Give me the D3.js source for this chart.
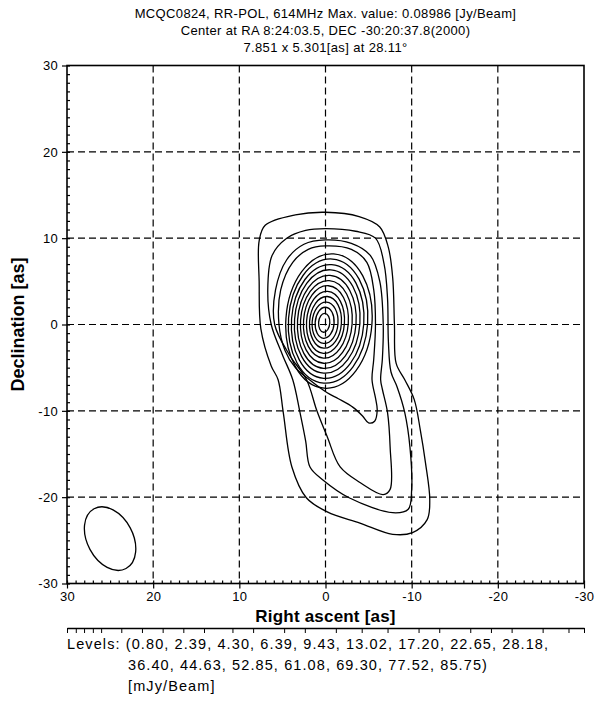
<html>
<head>
    <script src="https://cdnjs.cloudflare.com/ajax/libs/d3/7.8.5/d3.min.js"></script>
    <style>
        body { margin: 0; background: #fff; }
        text { font-family: "Liberation Sans", Arial, sans-serif; fill: #000; }
    </style>
</head>
<body>
    <script>
        var titleLines = ["MCQC0824, RR-POL, 614MHz Max. value: 0.08986 [Jy/Beam]",
            "Center at RA 8:24:03.5, DEC -30:20:37.8(2000)",
            "7.851 x 5.301[as] at 28.11\u00b0"];

        var xTicks = [30, 20, 10, 0, -10, -20, -30];
        var yTicks = [30, 20, 10, 0, -10, -20, -30];
        var gridValues = [20, 10, 0, -10, -20];

        var levels = [0.80, 2.39, 4.30, 6.39, 9.43, 13.02, 17.20, 22.65, 28.18,
            36.40, 44.63, 52.85, 61.08, 69.30, 77.52, 85.75];
        var levelTextLines = ["Levels: (0.80, 2.39, 4.30, 6.39, 9.43, 13.02, 17.20, 22.65, 28.18,",
            "36.40, 44.63, 52.85, 61.08, 69.30, 77.52, 85.75)",
            "[mJy/Beam]"];

        // ticks of the little scale under the axis title (0..1 of width)
        var levelBarTicks = [0, 0.017, 0.033, 0.05, 0.066, 0.105, 0.145, 0.185, 0.225, 0.265,
            0.32, 0.36, 0.42, 0.46, 0.52, 0.57, 0.62, 0.68, 0.72, 0.78, 0.82, 0.86, 0.92, 0.97, 1];

        // beam: centre (RA, Dec), major, minor [as], position angle [deg]
        var beamCenter = [25.0, -24.8];
        var beamAxes = [7.851, 5.301];
        var beamPA = 28.11;

        // outer contours as [RA offset, Dec offset] in arcsec
        var contourL1 = [[0, 13.0], [-3.9, 12.5], [-6.3, 11.3], [-7.3, 8.9], [-7.8, 5.4], [-8.0, 0], [-8.2, -4.5],
            [-9.2, -6.4], [-10.3, -8.7], [-11.0, -12.2], [-11.6, -16.0], [-12.1, -20.3], [-11.8, -22.6],
            [-10.1, -24.1], [-7.8, -24.3], [-4.0, -23.0], [-0.2, -21.7], [2.2, -20.1], [3.9, -16.5],
            [4.9, -10.2], [5.5, -6.4], [6.3, -4.8], [7.5, -0.5], [7.7, 5.0], [7.7, 9.7], [7.0, 11.5], [3.5, 12.7]];
        var contourL2 = [[0, 11.1], [-3.5, 10.8], [-5.8, 10.0], [-6.8, 7.0], [-7.2, 3.0], [-7.3, -2.0], [-7.6, -5.5],
            [-8.3, -7.2], [-9.2, -10.2], [-9.8, -14.2], [-10.0, -19.1], [-9.6, -21.4], [-7.8, -21.8],
            [-2.8, -20.1], [0.3, -18.0], [1.8, -16.5], [2.3, -13.5], [3.0, -10.0], [3.8, -6.4], [5.0, -3.5],
            [6.3, 0], [6.7, 4.0], [6.2, 8.0], [4.5, 10.0], [2.3, 10.9]];
        var contourL3 = [[0, 9.8], [-3.0, 9.4], [-5.2, 8.0], [-6.3, 5.0], [-6.7, 0], [-6.6, -4.0], [-6.4, -6.4],
            [-6.6, -7.5], [-7.2, -10.2], [-7.5, -14.2], [-7.5, -19.1], [-6.7, -19.7], [-4.0, -18.3],
            [-1.7, -16.5], [-0.2, -13.0], [1.0, -10.0], [2.2, -6.4], [4.2, -3.5], [5.9, 0], [5.8, 4.0],
            [4.5, 7.5], [2.5, 9.3]];
        var contourL4 = [[0, 9.1], [-3.0, 8.7], [-4.8, 7.2], [-5.6, 4.0], [-5.8, 0], [-5.6, -4.0], [-5.4, -6.4],
            [-5.8, -8.5], [-6.0, -9.9], [-5.7, -11.2], [-5.0, -11.4], [-4.3, -10.6], [-3.2, -9.6],
            [-1.5, -8.6], [-0.2, -7.9], [1.6, -6.6], [3.5, -5.0], [4.7, -3.0], [5.4, 0], [5.2, 4.0],
            [3.8, 7.2], [2.0, 8.7]];

        // inner contours (levels 5..16) are near-elliptical: [RA centre, Dec centre, half width, half height]
        var innerContours = [[-0.4, 0.4, 5.0, 7.8], [-0.3, 0.4, 4.6, 7.2], [-0.25, 0.35, 4.2, 6.6],
            [-0.2, 0.35, 3.8, 6.0], [-0.15, 0.3, 3.4, 5.4], [-0.1, 0.3, 3.0, 4.8], [-0.05, 0.3, 2.6, 4.2],
            [0, 0.25, 2.2, 3.6], [0, 0.25, 1.85, 3.0], [0.05, 0.2, 1.5, 2.4], [0.1, 0.2, 1.1, 1.8],
            [0.15, 0.2, 0.65, 1.1]];
        var innerTilt = 4;

        var width = 598;
        var height = 710;

        var svg = d3.select("body").append("svg")
            .attr("width", width)
            .attr("height", height);

        var x = d3.scaleLinear().domain([30, -30]).range([67, 584]);
        var y = d3.scaleLinear().domain([30, -30]).range([65.5, 583.5]);

        // title
        svg.append("g").selectAll("text")
            .data(titleLines)
            .enter().append("text")
            .attr("x", (x.range()[0] + x.range()[1]) / 2)
            .attr("y", (d, i) => 18 + i * 17)
            .attr("text-anchor", "middle")
            .style("font-size", "13px")
            .style("letter-spacing", "0.35px")
            .text(d => d);

        // dashed grid
        var grid = svg.append("g")
            .attr("stroke", "#000")
            .attr("stroke-width", 1.2)
            .attr("stroke-dasharray", "7,4");

        grid.selectAll(".gx")
            .data(gridValues)
            .enter().append("line")
            .attr("x1", d => x(d)).attr("x2", d => x(d))
            .attr("y1", y(30)).attr("y2", y(-30));

        grid.selectAll(".gy")
            .data(gridValues)
            .enter().append("line")
            .attr("y1", d => y(d)).attr("y2", d => y(d))
            .attr("x1", x(30)).attr("x2", x(-30));

        // contours
        var line = d3.line()
            .x(d => x(d[0]))
            .y(d => y(d[1]))
            .curve(d3.curveCatmullRomClosed.alpha(0.5));

        var contourGroup = svg.append("g")
            .attr("fill", "none")
            .attr("stroke", "#000")
            .attr("stroke-width", 1.3);

        contourGroup.selectAll("path")
            .data([contourL1, contourL2, contourL3, contourL4])
            .enter().append("path")
            .attr("d", line);

        contourGroup.selectAll("ellipse.inner")
            .data(innerContours)
            .enter().append("ellipse")
            .attr("class", "inner")
            .attr("cx", d => x(d[0]))
            .attr("cy", d => y(d[1]))
            .attr("rx", d => Math.abs(x(d[2]) - x(0)))
            .attr("ry", d => Math.abs(y(d[3]) - y(0)))
            .attr("transform", d => "rotate(" + innerTilt + "," + x(d[0]) + "," + y(d[1]) + ")");

        // beam
        contourGroup.append("ellipse")
            .datum(beamCenter)
            .attr("cx", d => x(d[0]))
            .attr("cy", d => y(d[1]))
            .attr("rx", Math.abs(x(beamAxes[1] / 2) - x(0)))
            .attr("ry", Math.abs(y(beamAxes[0] / 2) - y(0)))
            .attr("transform", d => "rotate(" + (-beamPA) + "," + x(d[0]) + "," + y(d[1]) + ")");

        // frame
        svg.append("rect")
            .attr("x", x(30)).attr("y", y(30))
            .attr("width", x(-30) - x(30))
            .attr("height", y(-30) - y(30))
            .attr("fill", "none")
            .attr("stroke", "#000")
            .attr("stroke-width", 1.6);

        // axes
        var minorTicks = d3.range(-30, 31, 1);

        var yAxis = d3.axisLeft(y).tickValues(yTicks).tickSizeInner(5).tickSizeOuter(0).tickPadding(4)
            .tickFormat(d => String(d));
        svg.append("g").attr("transform", "translate(" + x(30) + ",0)").call(yAxis);
        svg.append("g").attr("transform", "translate(" + x(30) + ",0)")
            .call(d3.axisRight(y).tickValues(minorTicks).tickSize(3).tickSizeOuter(0).tickFormat(""));

        var xAxis = d3.axisBottom(x).tickValues(xTicks).tickSizeInner(5).tickSizeOuter(0).tickPadding(3)
            .tickFormat(d => String(d));
        svg.append("g").attr("transform", "translate(0," + y(-30) + ")").call(xAxis);
        svg.append("g").attr("transform", "translate(0," + y(-30) + ")")
            .call(d3.axisTop(x).tickValues(minorTicks).tickSize(3).tickSizeOuter(0).tickFormat(""));

        svg.selectAll(".domain").remove();
        svg.selectAll(".tick text").style("font-size", "13px").style("letter-spacing", "0.3px")
            .style("font-family", "Liberation Sans, Arial, sans-serif");
        svg.selectAll(".tick line").attr("stroke-width", 1.2);

        // axis titles
        svg.append("text")
            .attr("x", (x.range()[0] + x.range()[1]) / 2)
            .attr("y", 622)
            .attr("text-anchor", "middle")
            .style("font-size", "17px")
            .style("font-weight", "bold")
            .style("letter-spacing", "0.2px")
            .text("Right ascent [as]");

        svg.append("text")
            .attr("transform", "translate(24," + (y.range()[0] + y.range()[1]) / 2 + ") rotate(-90)")
            .attr("text-anchor", "middle")
            .style("font-size", "18px")
            .style("font-weight", "bold")
            .text("Declination [as]");

        // level scale
        var bar = d3.scaleLinear().domain([0, 1]).range([67, 584]);
        var barG = svg.append("g").attr("transform", "translate(0,628)");
        barG.call(d3.axisBottom(bar).tickValues(levelBarTicks).tickSize(5).tickSizeOuter(0).tickFormat(""));
        barG.select(".domain").attr("stroke-width", 1.5);

        // level text
        svg.append("g").selectAll("text")
            .data(levelTextLines)
            .enter().append("text")
            .attr("x", (d, i) => i == 0 ? 67 : 128)
            .attr("y", (d, i) => 649 + i * 21)
            .style("font-size", "14.5px")
            .style("letter-spacing", "1.1px")
            .text(d => d);
    </script>
</body>
</html>
